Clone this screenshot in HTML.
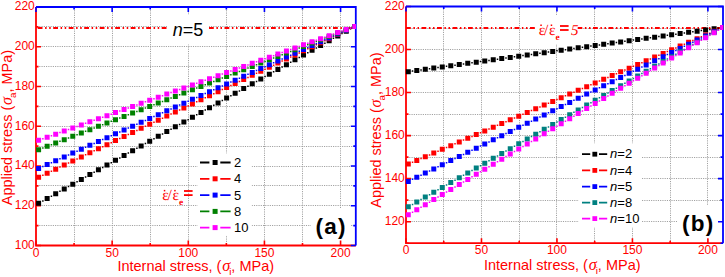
<!DOCTYPE html>
<html><head><meta charset="utf-8"><style>
html,body{margin:0;padding:0;background:#fff;width:725px;height:277px;overflow:hidden}
svg{display:block}
text{font-family:"Liberation Sans",sans-serif}
.tl{font-size:12px;fill:#ff0000}
.lg{font-size:13px;fill:#000}
.big{font-size:18px;fill:#000}
.pl{font-size:22.5px;font-weight:bold;fill:#000;letter-spacing:1.2px}
.rt{font-family:"Liberation Serif",serif;fill:#ff0000;text-rendering:geometricPrecision}
.at{font-size:14.6px;fill:#ff0000}
</style></head><body>
<svg width="725" height="277" viewBox="0 0 725 277">
<rect width="725" height="277" fill="#fff"/>
<path d="M74.5 8V244.5M112.5 8V244.5M150.5 8V244.5M188.5 8V244.5M226.5 8V244.5M264.5 8V244.5M302.5 8V244.5M340.5 8V244.5M37 225.5H354.8M37 205.5H354.8M37 185.5H354.8M37 166.5H354.8M37 146.5H354.8M37 126.5H354.8M37 106.5H354.8M37 86.5H354.8M37 66.5H354.8M37 46.5H354.8M37 26.5H354.8" stroke="#a0a0a0" stroke-width="1" stroke-dasharray="1.13 1.13" fill="none"/>
<path d="M37.7 28H167.5" stroke="#ff0000" stroke-width="2" stroke-dasharray="4.8 2.6 1.5 2.6 1.5 2.5" fill="none"/>
<path d="M209 28H354" stroke="#ff0000" stroke-width="2" stroke-dasharray="4.8 2.6 1.5 2.6 1.5 2.5" fill="none"/>
<path d="M443.5 7V242.2M481.5 7V242.2M519.5 7V242.2M556.5 7V242.2M594.5 7V242.2M632.5 7V242.2M670.5 7V242.2M707.5 7V242.2M407 221.5H722M407 200.5H722M407 178.5H722M407 157.5H722M407 135.5H722M407 114.5H722M407 92.5H722M407 71.5H722M407 49.5H722M407 28.5H722" stroke="#a0a0a0" stroke-width="1" stroke-dasharray="1.13 1.13" fill="none"/>
<path d="M406 28H535" stroke="#ff0000" stroke-width="2" stroke-dasharray="4.8 2.6 1.5 2.6 1.5 2.5" fill="none"/>
<path d="M577.5 28H721" stroke="#ff0000" stroke-width="2" stroke-dasharray="4.8 2.6 1.5 2.6 1.5 2.5" fill="none"/>
<rect x="197.5" y="153.4" width="54.2" height="82.2" fill="#fff"/>
<rect x="578.5" y="143.3" width="63.2" height="84" fill="#fff"/>
<rect x="311" y="208" width="40" height="36" fill="#fff"/>
<rect x="677" y="205" width="43" height="37" fill="#fff"/>
<rect x="167.5" y="15" width="41.5" height="29.5" fill="#fff"/>
<rect x="535" y="15.5" width="42.5" height="28.5" fill="#fff"/>
<path d="M200 162.5H209.4M220.3 162.5H230.6" stroke="#000" stroke-width="1.8" fill="none"/>
<rect x="212.6" y="160" width="5" height="5" fill="#000"/>
<text x="234" y="167.1" class="lg">2</text>
<path d="M200 178.8H209.4M220.3 178.8H230.6" stroke="#ff0000" stroke-width="1.8" fill="none"/>
<rect x="212.6" y="176.3" width="5" height="5" fill="#ff0000"/>
<text x="234" y="183.4" class="lg">4</text>
<path d="M200 195.1H209.4M220.3 195.1H230.6" stroke="#0000ff" stroke-width="1.8" fill="none"/>
<rect x="212.6" y="192.6" width="5" height="5" fill="#0000ff"/>
<text x="234" y="199.7" class="lg">5</text>
<path d="M200 211.4H209.4M220.3 211.4H230.6" stroke="#008000" stroke-width="1.8" fill="none"/>
<rect x="212.6" y="208.9" width="5" height="5" fill="#008000"/>
<text x="234" y="216" class="lg">8</text>
<path d="M200 227.6H209.4M220.3 227.6H230.6" stroke="#ff00ff" stroke-width="1.8" fill="none"/>
<rect x="212.6" y="225.1" width="5" height="5" fill="#ff00ff"/>
<text x="234" y="232.2" class="lg">10</text>
<path d="M582 154.2H590.2M599 154.2H607.2" stroke="#000" stroke-width="1.8" fill="none"/>
<rect x="592.4" y="151.8" width="4.8" height="4.8" fill="#000"/>
<text x="610.1" y="158.3" class="lg"><tspan font-style="italic">n</tspan>=2</text>
<path d="M582 170.4H590.2M599 170.4H607.2" stroke="#ff0000" stroke-width="1.8" fill="none"/>
<rect x="592.4" y="168" width="4.8" height="4.8" fill="#ff0000"/>
<text x="610.1" y="174.5" class="lg"><tspan font-style="italic">n</tspan>=4</text>
<path d="M582 186.6H590.2M599 186.6H607.2" stroke="#0000ff" stroke-width="1.8" fill="none"/>
<rect x="592.4" y="184.2" width="4.8" height="4.8" fill="#0000ff"/>
<text x="610.1" y="190.7" class="lg"><tspan font-style="italic">n</tspan>=5</text>
<path d="M582 202.6H590.2M599 202.6H607.2" stroke="#008080" stroke-width="1.8" fill="none"/>
<rect x="592.4" y="200.2" width="4.8" height="4.8" fill="#008080"/>
<text x="610.1" y="206.7" class="lg"><tspan font-style="italic">n</tspan>=8</text>
<path d="M582 218.6H590.2M599 218.6H607.2" stroke="#ff00ff" stroke-width="1.8" fill="none"/>
<rect x="592.4" y="216.2" width="4.8" height="4.8" fill="#ff00ff"/>
<text x="610.1" y="222.7" class="lg"><tspan font-style="italic">n</tspan>=10</text>
<path d="M36 245.5h5M36 225.62h2.5M36 205.75h5M36 185.88h2.5M36 166h5M36 146.12h2.5M36 126.25h5M36 106.38h2.5M36 86.5h5M36 66.62h2.5M36 46.75h5M36 26.88h2.5M36 7h5M36 245.5v-5M74.07 245.5v-2.5M112.14 245.5v-5M150.21 245.5v-2.5M188.29 245.5v-5M226.36 245.5v-2.5M264.43 245.5v-5M302.5 245.5v-2.5M340.57 245.5v-5" stroke="#ff0000" stroke-width="1.6" fill="none"/>
<path d="M36 7V245.5H355.8" stroke="#ff0000" stroke-width="1.8" fill="none"/>
<path d="M355.8 245.5h-5M355.8 225.62h-2.5M355.8 205.75h-5M355.8 185.88h-2.5M355.8 166h-5M355.8 146.12h-2.5M355.8 126.25h-5M355.8 106.38h-2.5M355.8 86.5h-5M355.8 66.62h-2.5M355.8 46.75h-5M355.8 26.88h-2.5M355.8 7h-5M36 7v5M74.07 7v2.5M112.14 7v5M150.21 7v2.5M188.29 7v5M226.36 7v2.5M264.43 7v5M302.5 7v2.5M340.57 7v5" stroke="#0000ff" stroke-width="1.6" fill="none"/>
<path d="M36 7H355.8V245.5" stroke="#0000ff" stroke-width="1.8" fill="none"/>
<text x="34.8" y="248.9" text-anchor="end" class="tl">100</text>
<text x="34.8" y="209.15" text-anchor="end" class="tl">120</text>
<text x="34.8" y="169.4" text-anchor="end" class="tl">140</text>
<text x="34.8" y="129.65" text-anchor="end" class="tl">160</text>
<text x="34.8" y="89.9" text-anchor="end" class="tl">180</text>
<text x="34.8" y="50.15" text-anchor="end" class="tl">200</text>
<text x="34.8" y="10.4" text-anchor="end" class="tl">220</text>
<text x="36" y="256.7" text-anchor="middle" class="tl">0</text>
<text x="112.14" y="256.7" text-anchor="middle" class="tl">50</text>
<text x="188.29" y="256.7" text-anchor="middle" class="tl">100</text>
<text x="264.43" y="256.7" text-anchor="middle" class="tl">150</text>
<text x="340.57" y="256.7" text-anchor="middle" class="tl">200</text>
<path d="M406 243.2h2.5M406 221.68h5M406 200.16h2.5M406 178.65h5M406 157.13h2.5M406 135.61h5M406 114.09h2.5M406 92.57h5M406 71.05h2.5M406 49.54h5M406 28.02h2.5M406 6.5h5M406 243.2v-5M443.74 243.2v-2.5M481.48 243.2v-5M519.21 243.2v-2.5M556.95 243.2v-5M594.69 243.2v-2.5M632.43 243.2v-5M670.17 243.2v-2.5M707.9 243.2v-5" stroke="#ff0000" stroke-width="1.6" fill="none"/>
<path d="M406 6.5V243.2H723" stroke="#ff0000" stroke-width="1.8" fill="none"/>
<path d="M723 243.2h-2.5M723 221.68h-5M723 200.16h-2.5M723 178.65h-5M723 157.13h-2.5M723 135.61h-5M723 114.09h-2.5M723 92.57h-5M723 71.05h-2.5M723 49.54h-5M723 28.02h-2.5M723 6.5h-5M406 6.5v5M443.74 6.5v2.5M481.48 6.5v5M519.21 6.5v2.5M556.95 6.5v5M594.69 6.5v2.5M632.43 6.5v5M670.17 6.5v2.5M707.9 6.5v5" stroke="#0000ff" stroke-width="1.6" fill="none"/>
<path d="M406 6.5H723V243.2" stroke="#0000ff" stroke-width="1.8" fill="none"/>
<text x="404.8" y="225.08" text-anchor="end" class="tl">120</text>
<text x="404.8" y="182.05" text-anchor="end" class="tl">140</text>
<text x="404.8" y="139.01" text-anchor="end" class="tl">160</text>
<text x="404.8" y="95.97" text-anchor="end" class="tl">180</text>
<text x="404.8" y="52.94" text-anchor="end" class="tl">200</text>
<text x="404.8" y="9.9" text-anchor="end" class="tl">220</text>
<text x="406" y="254.4" text-anchor="middle" class="tl">0</text>
<text x="481.48" y="254.4" text-anchor="middle" class="tl">50</text>
<text x="556.95" y="254.4" text-anchor="middle" class="tl">100</text>
<text x="632.43" y="254.4" text-anchor="middle" class="tl">150</text>
<text x="707.9" y="254.4" text-anchor="middle" class="tl">200</text>
<clipPath id="c355"><rect x="35" y="0" width="321.1" height="277"/></clipPath><g clip-path="url(#c355)">
<path d="M36.1 200.8h5v5h-5zM44.65 196.02h5v5h-5zM53.19 191.24h5v5h-5zM61.74 186.46h5v5h-5zM70.28 181.68h5v5h-5zM78.83 176.89h5v5h-5zM87.38 172.11h5v5h-5zM95.92 167.33h5v5h-5zM104.47 162.55h5v5h-5zM113.01 157.77h5v5h-5zM121.56 152.99h5v5h-5zM130.11 148.21h5v5h-5zM138.65 143.43h5v5h-5zM147.2 138.65h5v5h-5zM155.74 133.86h5v5h-5zM164.29 129.08h5v5h-5zM172.84 124.3h5v5h-5zM181.38 119.52h5v5h-5zM189.93 114.74h5v5h-5zM198.47 109.96h5v5h-5zM207.02 105.18h5v5h-5zM215.56 100.4h5v5h-5zM224.11 95.62h5v5h-5zM232.66 90.84h5v5h-5zM241.2 86.05h5v5h-5zM249.75 81.27h5v5h-5zM258.29 76.49h5v5h-5zM266.84 71.71h5v5h-5zM275.39 66.93h5v5h-5zM283.93 62.15h5v5h-5zM292.48 57.37h5v5h-5zM301.02 52.59h5v5h-5zM309.57 47.81h5v5h-5zM318.12 43.02h5v5h-5zM326.66 38.24h5v5h-5zM335.21 33.46h5v5h-5zM343.75 28.68h5v5h-5zM352.3 23.9h5v5h-5zM42.12 200.16h1.5v1.5h-1.5zM50.67 195.38h1.5v1.5h-1.5zM59.21 190.6h1.5v1.5h-1.5zM67.76 185.82h1.5v1.5h-1.5zM76.31 181.04h1.5v1.5h-1.5zM84.85 176.25h1.5v1.5h-1.5zM93.4 171.47h1.5v1.5h-1.5zM101.94 166.69h1.5v1.5h-1.5zM110.49 161.91h1.5v1.5h-1.5zM119.04 157.13h1.5v1.5h-1.5zM127.58 152.35h1.5v1.5h-1.5zM136.13 147.57h1.5v1.5h-1.5zM144.67 142.79h1.5v1.5h-1.5zM153.22 138.01h1.5v1.5h-1.5zM161.77 133.22h1.5v1.5h-1.5zM170.31 128.44h1.5v1.5h-1.5zM178.86 123.66h1.5v1.5h-1.5zM187.4 118.88h1.5v1.5h-1.5zM195.95 114.1h1.5v1.5h-1.5zM204.5 109.32h1.5v1.5h-1.5zM213.04 104.54h1.5v1.5h-1.5zM221.59 99.76h1.5v1.5h-1.5zM230.13 94.98h1.5v1.5h-1.5zM238.68 90.19h1.5v1.5h-1.5zM247.23 85.41h1.5v1.5h-1.5zM255.77 80.63h1.5v1.5h-1.5zM264.32 75.85h1.5v1.5h-1.5zM272.86 71.07h1.5v1.5h-1.5zM281.41 66.29h1.5v1.5h-1.5zM289.96 61.51h1.5v1.5h-1.5zM298.5 56.73h1.5v1.5h-1.5zM307.05 51.95h1.5v1.5h-1.5zM315.59 47.16h1.5v1.5h-1.5zM324.14 42.38h1.5v1.5h-1.5zM332.69 37.6h1.5v1.5h-1.5zM341.23 32.82h1.5v1.5h-1.5zM349.78 28.04h1.5v1.5h-1.5z" fill="#000000"/>
<path d="M36.1 174.8h5v5h-5zM44.65 170.72h5v5h-5zM53.19 166.64h5v5h-5zM61.74 162.56h5v5h-5zM70.28 158.49h5v5h-5zM78.83 154.41h5v5h-5zM87.38 150.33h5v5h-5zM95.92 146.25h5v5h-5zM104.47 142.17h5v5h-5zM113.01 138.09h5v5h-5zM121.56 134.02h5v5h-5zM130.11 129.94h5v5h-5zM138.65 125.86h5v5h-5zM147.2 121.78h5v5h-5zM155.74 117.7h5v5h-5zM164.29 113.62h5v5h-5zM172.84 109.55h5v5h-5zM181.38 105.47h5v5h-5zM189.93 101.39h5v5h-5zM198.47 97.31h5v5h-5zM207.02 93.23h5v5h-5zM215.56 89.15h5v5h-5zM224.11 85.08h5v5h-5zM232.66 81h5v5h-5zM241.2 76.92h5v5h-5zM249.75 72.84h5v5h-5zM258.29 68.76h5v5h-5zM266.84 64.68h5v5h-5zM275.39 60.61h5v5h-5zM283.93 56.53h5v5h-5zM292.48 52.45h5v5h-5zM301.02 48.37h5v5h-5zM309.57 44.29h5v5h-5zM318.12 40.21h5v5h-5zM326.66 36.14h5v5h-5zM335.21 32.06h5v5h-5zM343.75 27.98h5v5h-5zM352.3 23.9h5v5h-5zM42.12 174.51h1.5v1.5h-1.5zM50.67 170.43h1.5v1.5h-1.5zM59.21 166.35h1.5v1.5h-1.5zM67.76 162.28h1.5v1.5h-1.5zM76.31 158.2h1.5v1.5h-1.5zM84.85 154.12h1.5v1.5h-1.5zM93.4 150.04h1.5v1.5h-1.5zM101.94 145.96h1.5v1.5h-1.5zM110.49 141.88h1.5v1.5h-1.5zM119.04 137.81h1.5v1.5h-1.5zM127.58 133.73h1.5v1.5h-1.5zM136.13 129.65h1.5v1.5h-1.5zM144.67 125.57h1.5v1.5h-1.5zM153.22 121.49h1.5v1.5h-1.5zM161.77 117.41h1.5v1.5h-1.5zM170.31 113.34h1.5v1.5h-1.5zM178.86 109.26h1.5v1.5h-1.5zM187.4 105.18h1.5v1.5h-1.5zM195.95 101.1h1.5v1.5h-1.5zM204.5 97.02h1.5v1.5h-1.5zM213.04 92.94h1.5v1.5h-1.5zM221.59 88.86h1.5v1.5h-1.5zM230.13 84.79h1.5v1.5h-1.5zM238.68 80.71h1.5v1.5h-1.5zM247.23 76.63h1.5v1.5h-1.5zM255.77 72.55h1.5v1.5h-1.5zM264.32 68.47h1.5v1.5h-1.5zM272.86 64.39h1.5v1.5h-1.5zM281.41 60.32h1.5v1.5h-1.5zM289.96 56.24h1.5v1.5h-1.5zM298.5 52.16h1.5v1.5h-1.5zM307.05 48.08h1.5v1.5h-1.5zM315.59 44h1.5v1.5h-1.5zM324.14 39.92h1.5v1.5h-1.5zM332.69 35.85h1.5v1.5h-1.5zM341.23 31.77h1.5v1.5h-1.5zM349.78 27.69h1.5v1.5h-1.5z" fill="#ff0000"/>
<path d="M36.1 165.9h5v5h-5zM44.65 162.06h5v5h-5zM53.19 158.22h5v5h-5zM61.74 154.39h5v5h-5zM70.28 150.55h5v5h-5zM78.83 146.71h5v5h-5zM87.38 142.87h5v5h-5zM95.92 139.04h5v5h-5zM104.47 135.2h5v5h-5zM113.01 131.36h5v5h-5zM121.56 127.52h5v5h-5zM130.11 123.68h5v5h-5zM138.65 119.85h5v5h-5zM147.2 116.01h5v5h-5zM155.74 112.17h5v5h-5zM164.29 108.33h5v5h-5zM172.84 104.49h5v5h-5zM181.38 100.66h5v5h-5zM189.93 96.82h5v5h-5zM198.47 92.98h5v5h-5zM207.02 89.14h5v5h-5zM215.56 85.31h5v5h-5zM224.11 81.47h5v5h-5zM232.66 77.63h5v5h-5zM241.2 73.79h5v5h-5zM249.75 69.95h5v5h-5zM258.29 66.12h5v5h-5zM266.84 62.28h5v5h-5zM275.39 58.44h5v5h-5zM283.93 54.6h5v5h-5zM292.48 50.76h5v5h-5zM301.02 46.93h5v5h-5zM309.57 43.09h5v5h-5zM318.12 39.25h5v5h-5zM326.66 35.41h5v5h-5zM335.21 31.58h5v5h-5zM343.75 27.74h5v5h-5zM352.3 23.9h5v5h-5zM42.12 165.73h1.5v1.5h-1.5zM50.67 161.89h1.5v1.5h-1.5zM59.21 158.06h1.5v1.5h-1.5zM67.76 154.22h1.5v1.5h-1.5zM76.31 150.38h1.5v1.5h-1.5zM84.85 146.54h1.5v1.5h-1.5zM93.4 142.7h1.5v1.5h-1.5zM101.94 138.87h1.5v1.5h-1.5zM110.49 135.03h1.5v1.5h-1.5zM119.04 131.19h1.5v1.5h-1.5zM127.58 127.35h1.5v1.5h-1.5zM136.13 123.51h1.5v1.5h-1.5zM144.67 119.68h1.5v1.5h-1.5zM153.22 115.84h1.5v1.5h-1.5zM161.77 112h1.5v1.5h-1.5zM170.31 108.16h1.5v1.5h-1.5zM178.86 104.33h1.5v1.5h-1.5zM187.4 100.49h1.5v1.5h-1.5zM195.95 96.65h1.5v1.5h-1.5zM204.5 92.81h1.5v1.5h-1.5zM213.04 88.97h1.5v1.5h-1.5zM221.59 85.14h1.5v1.5h-1.5zM230.13 81.3h1.5v1.5h-1.5zM238.68 77.46h1.5v1.5h-1.5zM247.23 73.62h1.5v1.5h-1.5zM255.77 69.79h1.5v1.5h-1.5zM264.32 65.95h1.5v1.5h-1.5zM272.86 62.11h1.5v1.5h-1.5zM281.41 58.27h1.5v1.5h-1.5zM289.96 54.43h1.5v1.5h-1.5zM298.5 50.6h1.5v1.5h-1.5zM307.05 46.76h1.5v1.5h-1.5zM315.59 42.92h1.5v1.5h-1.5zM324.14 39.08h1.5v1.5h-1.5zM332.69 35.24h1.5v1.5h-1.5zM341.23 31.41h1.5v1.5h-1.5zM349.78 27.57h1.5v1.5h-1.5z" fill="#0000ff"/>
<path d="M36.1 147.2h5v5h-5zM44.65 143.87h5v5h-5zM53.19 140.54h5v5h-5zM61.74 137.2h5v5h-5zM70.28 133.87h5v5h-5zM78.83 130.54h5v5h-5zM87.38 127.21h5v5h-5zM95.92 123.87h5v5h-5zM104.47 120.54h5v5h-5zM113.01 117.21h5v5h-5zM121.56 113.88h5v5h-5zM130.11 110.54h5v5h-5zM138.65 107.21h5v5h-5zM147.2 103.88h5v5h-5zM155.74 100.55h5v5h-5zM164.29 97.21h5v5h-5zM172.84 93.88h5v5h-5zM181.38 90.55h5v5h-5zM189.93 87.22h5v5h-5zM198.47 83.88h5v5h-5zM207.02 80.55h5v5h-5zM215.56 77.22h5v5h-5zM224.11 73.89h5v5h-5zM232.66 70.55h5v5h-5zM241.2 67.22h5v5h-5zM249.75 63.89h5v5h-5zM258.29 60.56h5v5h-5zM266.84 57.22h5v5h-5zM275.39 53.89h5v5h-5zM283.93 50.56h5v5h-5zM292.48 47.23h5v5h-5zM301.02 43.89h5v5h-5zM309.57 40.56h5v5h-5zM318.12 37.23h5v5h-5zM326.66 33.9h5v5h-5zM335.21 30.56h5v5h-5zM343.75 27.23h5v5h-5zM352.3 23.9h5v5h-5zM42.12 147.28h1.5v1.5h-1.5zM50.67 143.95h1.5v1.5h-1.5zM59.21 140.62h1.5v1.5h-1.5zM67.76 137.29h1.5v1.5h-1.5zM76.31 133.95h1.5v1.5h-1.5zM84.85 130.62h1.5v1.5h-1.5zM93.4 127.29h1.5v1.5h-1.5zM101.94 123.96h1.5v1.5h-1.5zM110.49 120.62h1.5v1.5h-1.5zM119.04 117.29h1.5v1.5h-1.5zM127.58 113.96h1.5v1.5h-1.5zM136.13 110.63h1.5v1.5h-1.5zM144.67 107.29h1.5v1.5h-1.5zM153.22 103.96h1.5v1.5h-1.5zM161.77 100.63h1.5v1.5h-1.5zM170.31 97.3h1.5v1.5h-1.5zM178.86 93.96h1.5v1.5h-1.5zM187.4 90.63h1.5v1.5h-1.5zM195.95 87.3h1.5v1.5h-1.5zM204.5 83.97h1.5v1.5h-1.5zM213.04 80.64h1.5v1.5h-1.5zM221.59 77.3h1.5v1.5h-1.5zM230.13 73.97h1.5v1.5h-1.5zM238.68 70.64h1.5v1.5h-1.5zM247.23 67.31h1.5v1.5h-1.5zM255.77 63.97h1.5v1.5h-1.5zM264.32 60.64h1.5v1.5h-1.5zM272.86 57.31h1.5v1.5h-1.5zM281.41 53.98h1.5v1.5h-1.5zM289.96 50.64h1.5v1.5h-1.5zM298.5 47.31h1.5v1.5h-1.5zM307.05 43.98h1.5v1.5h-1.5zM315.59 40.65h1.5v1.5h-1.5zM324.14 37.31h1.5v1.5h-1.5zM332.69 33.98h1.5v1.5h-1.5zM341.23 30.65h1.5v1.5h-1.5zM349.78 27.32h1.5v1.5h-1.5z" fill="#008000"/>
<path d="M36.1 137.8h5v5h-5zM44.65 134.72h5v5h-5zM53.19 131.64h5v5h-5zM61.74 128.56h5v5h-5zM70.28 125.49h5v5h-5zM78.83 122.41h5v5h-5zM87.38 119.33h5v5h-5zM95.92 116.25h5v5h-5zM104.47 113.17h5v5h-5zM113.01 110.09h5v5h-5zM121.56 107.02h5v5h-5zM130.11 103.94h5v5h-5zM138.65 100.86h5v5h-5zM147.2 97.78h5v5h-5zM155.74 94.7h5v5h-5zM164.29 91.62h5v5h-5zM172.84 88.55h5v5h-5zM181.38 85.47h5v5h-5zM189.93 82.39h5v5h-5zM198.47 79.31h5v5h-5zM207.02 76.23h5v5h-5zM215.56 73.15h5v5h-5zM224.11 70.08h5v5h-5zM232.66 67h5v5h-5zM241.2 63.92h5v5h-5zM249.75 60.84h5v5h-5zM258.29 57.76h5v5h-5zM266.84 54.68h5v5h-5zM275.39 51.61h5v5h-5zM283.93 48.53h5v5h-5zM292.48 45.45h5v5h-5zM301.02 42.37h5v5h-5zM309.57 39.29h5v5h-5zM318.12 36.21h5v5h-5zM326.66 33.14h5v5h-5zM335.21 30.06h5v5h-5zM343.75 26.98h5v5h-5zM352.3 23.9h5v5h-5zM42.12 138.01h1.5v1.5h-1.5zM50.67 134.93h1.5v1.5h-1.5zM59.21 131.85h1.5v1.5h-1.5zM67.76 128.78h1.5v1.5h-1.5zM76.31 125.7h1.5v1.5h-1.5zM84.85 122.62h1.5v1.5h-1.5zM93.4 119.54h1.5v1.5h-1.5zM101.94 116.46h1.5v1.5h-1.5zM110.49 113.38h1.5v1.5h-1.5zM119.04 110.31h1.5v1.5h-1.5zM127.58 107.23h1.5v1.5h-1.5zM136.13 104.15h1.5v1.5h-1.5zM144.67 101.07h1.5v1.5h-1.5zM153.22 97.99h1.5v1.5h-1.5zM161.77 94.91h1.5v1.5h-1.5zM170.31 91.84h1.5v1.5h-1.5zM178.86 88.76h1.5v1.5h-1.5zM187.4 85.68h1.5v1.5h-1.5zM195.95 82.6h1.5v1.5h-1.5zM204.5 79.52h1.5v1.5h-1.5zM213.04 76.44h1.5v1.5h-1.5zM221.59 73.36h1.5v1.5h-1.5zM230.13 70.29h1.5v1.5h-1.5zM238.68 67.21h1.5v1.5h-1.5zM247.23 64.13h1.5v1.5h-1.5zM255.77 61.05h1.5v1.5h-1.5zM264.32 57.97h1.5v1.5h-1.5zM272.86 54.89h1.5v1.5h-1.5zM281.41 51.82h1.5v1.5h-1.5zM289.96 48.74h1.5v1.5h-1.5zM298.5 45.66h1.5v1.5h-1.5zM307.05 42.58h1.5v1.5h-1.5zM315.59 39.5h1.5v1.5h-1.5zM324.14 36.42h1.5v1.5h-1.5zM332.69 33.35h1.5v1.5h-1.5zM341.23 30.27h1.5v1.5h-1.5zM349.78 27.19h1.5v1.5h-1.5z" fill="#ff00ff"/>
</g>
<clipPath id="c723"><rect x="405" y="0" width="318.3" height="277"/></clipPath><g clip-path="url(#c723)">
<path d="M405.8 69.2h5v5h-5zM414.29 68.01h5v5h-5zM422.79 66.82h5v5h-5zM431.28 65.62h5v5h-5zM439.78 64.43h5v5h-5zM448.27 63.24h5v5h-5zM456.77 62.05h5v5h-5zM465.26 60.86h5v5h-5zM473.76 59.66h5v5h-5zM482.25 58.47h5v5h-5zM490.75 57.28h5v5h-5zM499.24 56.09h5v5h-5zM507.74 54.9h5v5h-5zM516.23 53.71h5v5h-5zM524.72 52.51h5v5h-5zM533.22 51.32h5v5h-5zM541.71 50.13h5v5h-5zM550.21 48.94h5v5h-5zM558.7 47.75h5v5h-5zM567.2 46.55h5v5h-5zM575.69 45.36h5v5h-5zM584.19 44.17h5v5h-5zM592.68 42.98h5v5h-5zM601.18 41.79h5v5h-5zM609.67 40.59h5v5h-5zM618.16 39.4h5v5h-5zM626.66 38.21h5v5h-5zM635.15 37.02h5v5h-5zM643.65 35.83h5v5h-5zM652.14 34.64h5v5h-5zM660.64 33.44h5v5h-5zM669.13 32.25h5v5h-5zM677.63 31.06h5v5h-5zM686.12 29.87h5v5h-5zM694.62 28.68h5v5h-5zM703.11 27.48h5v5h-5zM711.61 26.29h5v5h-5zM720.1 25.1h5v5h-5zM411.8 70.35h1.5v1.5h-1.5zM420.29 69.16h1.5v1.5h-1.5zM428.79 67.97h1.5v1.5h-1.5zM437.28 66.78h1.5v1.5h-1.5zM445.78 65.59h1.5v1.5h-1.5zM454.27 64.39h1.5v1.5h-1.5zM462.76 63.2h1.5v1.5h-1.5zM471.26 62.01h1.5v1.5h-1.5zM479.75 60.82h1.5v1.5h-1.5zM488.25 59.63h1.5v1.5h-1.5zM496.74 58.44h1.5v1.5h-1.5zM505.24 57.24h1.5v1.5h-1.5zM513.73 56.05h1.5v1.5h-1.5zM522.23 54.86h1.5v1.5h-1.5zM530.72 53.67h1.5v1.5h-1.5zM539.22 52.48h1.5v1.5h-1.5zM547.71 51.28h1.5v1.5h-1.5zM556.21 50.09h1.5v1.5h-1.5zM564.7 48.9h1.5v1.5h-1.5zM573.19 47.71h1.5v1.5h-1.5zM581.69 46.52h1.5v1.5h-1.5zM590.18 45.32h1.5v1.5h-1.5zM598.68 44.13h1.5v1.5h-1.5zM607.17 42.94h1.5v1.5h-1.5zM615.67 41.75h1.5v1.5h-1.5zM624.16 40.56h1.5v1.5h-1.5zM632.66 39.36h1.5v1.5h-1.5zM641.15 38.17h1.5v1.5h-1.5zM649.65 36.98h1.5v1.5h-1.5zM658.14 35.79h1.5v1.5h-1.5zM666.64 34.6h1.5v1.5h-1.5zM675.13 33.41h1.5v1.5h-1.5zM683.62 32.21h1.5v1.5h-1.5zM692.12 31.02h1.5v1.5h-1.5zM700.61 29.83h1.5v1.5h-1.5zM709.11 28.64h1.5v1.5h-1.5zM717.6 27.45h1.5v1.5h-1.5z" fill="#000000"/>
<path d="M405.8 161.6h5v5h-5zM414.29 157.91h5v5h-5zM422.79 154.22h5v5h-5zM431.28 150.53h5v5h-5zM439.78 146.84h5v5h-5zM448.27 143.15h5v5h-5zM456.77 139.46h5v5h-5zM465.26 135.78h5v5h-5zM473.76 132.09h5v5h-5zM482.25 128.4h5v5h-5zM490.75 124.71h5v5h-5zM499.24 121.02h5v5h-5zM507.74 117.33h5v5h-5zM516.23 113.64h5v5h-5zM524.72 109.95h5v5h-5zM533.22 106.26h5v5h-5zM541.71 102.57h5v5h-5zM550.21 98.88h5v5h-5zM558.7 95.19h5v5h-5zM567.2 91.51h5v5h-5zM575.69 87.82h5v5h-5zM584.19 84.13h5v5h-5zM592.68 80.44h5v5h-5zM601.18 76.75h5v5h-5zM609.67 73.06h5v5h-5zM618.16 69.37h5v5h-5zM626.66 65.68h5v5h-5zM635.15 61.99h5v5h-5zM643.65 58.3h5v5h-5zM652.14 54.61h5v5h-5zM660.64 50.92h5v5h-5zM669.13 47.24h5v5h-5zM677.63 43.55h5v5h-5zM686.12 39.86h5v5h-5zM694.62 36.17h5v5h-5zM703.11 32.48h5v5h-5zM711.61 28.79h5v5h-5zM720.1 25.1h5v5h-5zM411.8 161.51h1.5v1.5h-1.5zM420.29 157.82h1.5v1.5h-1.5zM428.79 154.13h1.5v1.5h-1.5zM437.28 150.44h1.5v1.5h-1.5zM445.78 146.75h1.5v1.5h-1.5zM454.27 143.06h1.5v1.5h-1.5zM462.76 139.37h1.5v1.5h-1.5zM471.26 135.68h1.5v1.5h-1.5zM479.75 131.99h1.5v1.5h-1.5zM488.25 128.3h1.5v1.5h-1.5zM496.74 124.61h1.5v1.5h-1.5zM505.24 120.92h1.5v1.5h-1.5zM513.73 117.24h1.5v1.5h-1.5zM522.23 113.55h1.5v1.5h-1.5zM530.72 109.86h1.5v1.5h-1.5zM539.22 106.17h1.5v1.5h-1.5zM547.71 102.48h1.5v1.5h-1.5zM556.21 98.79h1.5v1.5h-1.5zM564.7 95.1h1.5v1.5h-1.5zM573.19 91.41h1.5v1.5h-1.5zM581.69 87.72h1.5v1.5h-1.5zM590.18 84.03h1.5v1.5h-1.5zM598.68 80.34h1.5v1.5h-1.5zM607.17 76.65h1.5v1.5h-1.5zM615.67 72.96h1.5v1.5h-1.5zM624.16 69.28h1.5v1.5h-1.5zM632.66 65.59h1.5v1.5h-1.5zM641.15 61.9h1.5v1.5h-1.5zM649.65 58.21h1.5v1.5h-1.5zM658.14 54.52h1.5v1.5h-1.5zM666.64 50.83h1.5v1.5h-1.5zM675.13 47.14h1.5v1.5h-1.5zM683.62 43.45h1.5v1.5h-1.5zM692.12 39.76h1.5v1.5h-1.5zM700.61 36.07h1.5v1.5h-1.5zM709.11 32.38h1.5v1.5h-1.5zM717.6 28.69h1.5v1.5h-1.5z" fill="#ff0000"/>
<path d="M405.8 178.9h5v5h-5zM414.29 174.74h5v5h-5zM422.79 170.59h5v5h-5zM431.28 166.43h5v5h-5zM439.78 162.27h5v5h-5zM448.27 158.12h5v5h-5zM456.77 153.96h5v5h-5zM465.26 149.8h5v5h-5zM473.76 145.65h5v5h-5zM482.25 141.49h5v5h-5zM490.75 137.33h5v5h-5zM499.24 133.18h5v5h-5zM507.74 129.02h5v5h-5zM516.23 124.86h5v5h-5zM524.72 120.71h5v5h-5zM533.22 116.55h5v5h-5zM541.71 112.39h5v5h-5zM550.21 108.24h5v5h-5zM558.7 104.08h5v5h-5zM567.2 99.92h5v5h-5zM575.69 95.76h5v5h-5zM584.19 91.61h5v5h-5zM592.68 87.45h5v5h-5zM601.18 83.29h5v5h-5zM609.67 79.14h5v5h-5zM618.16 74.98h5v5h-5zM626.66 70.82h5v5h-5zM635.15 66.67h5v5h-5zM643.65 62.51h5v5h-5zM652.14 58.35h5v5h-5zM660.64 54.2h5v5h-5zM669.13 50.04h5v5h-5zM677.63 45.88h5v5h-5zM686.12 41.73h5v5h-5zM694.62 37.57h5v5h-5zM703.11 33.41h5v5h-5zM711.61 29.26h5v5h-5zM720.1 25.1h5v5h-5zM411.8 178.57h1.5v1.5h-1.5zM420.29 174.41h1.5v1.5h-1.5zM428.79 170.26h1.5v1.5h-1.5zM437.28 166.1h1.5v1.5h-1.5zM445.78 161.94h1.5v1.5h-1.5zM454.27 157.79h1.5v1.5h-1.5zM462.76 153.63h1.5v1.5h-1.5zM471.26 149.47h1.5v1.5h-1.5zM479.75 145.32h1.5v1.5h-1.5zM488.25 141.16h1.5v1.5h-1.5zM496.74 137h1.5v1.5h-1.5zM505.24 132.85h1.5v1.5h-1.5zM513.73 128.69h1.5v1.5h-1.5zM522.23 124.53h1.5v1.5h-1.5zM530.72 120.38h1.5v1.5h-1.5zM539.22 116.22h1.5v1.5h-1.5zM547.71 112.06h1.5v1.5h-1.5zM556.21 107.91h1.5v1.5h-1.5zM564.7 103.75h1.5v1.5h-1.5zM573.19 99.59h1.5v1.5h-1.5zM581.69 95.44h1.5v1.5h-1.5zM590.18 91.28h1.5v1.5h-1.5zM598.68 87.12h1.5v1.5h-1.5zM607.17 82.97h1.5v1.5h-1.5zM615.67 78.81h1.5v1.5h-1.5zM624.16 74.65h1.5v1.5h-1.5zM632.66 70.5h1.5v1.5h-1.5zM641.15 66.34h1.5v1.5h-1.5zM649.65 62.18h1.5v1.5h-1.5zM658.14 58.03h1.5v1.5h-1.5zM666.64 53.87h1.5v1.5h-1.5zM675.13 49.71h1.5v1.5h-1.5zM683.62 45.56h1.5v1.5h-1.5zM692.12 41.4h1.5v1.5h-1.5zM700.61 37.24h1.5v1.5h-1.5zM709.11 33.09h1.5v1.5h-1.5zM717.6 28.93h1.5v1.5h-1.5z" fill="#0000ff"/>
<path d="M405.8 204.3h5v5h-5zM414.29 199.46h5v5h-5zM422.79 194.61h5v5h-5zM431.28 189.77h5v5h-5zM439.78 184.93h5v5h-5zM448.27 180.08h5v5h-5zM456.77 175.24h5v5h-5zM465.26 170.4h5v5h-5zM473.76 165.55h5v5h-5zM482.25 160.71h5v5h-5zM490.75 155.87h5v5h-5zM499.24 151.02h5v5h-5zM507.74 146.18h5v5h-5zM516.23 141.34h5v5h-5zM524.72 136.49h5v5h-5zM533.22 131.65h5v5h-5zM541.71 126.81h5v5h-5zM550.21 121.96h5v5h-5zM558.7 117.12h5v5h-5zM567.2 112.28h5v5h-5zM575.69 107.44h5v5h-5zM584.19 102.59h5v5h-5zM592.68 97.75h5v5h-5zM601.18 92.91h5v5h-5zM609.67 88.06h5v5h-5zM618.16 83.22h5v5h-5zM626.66 78.38h5v5h-5zM635.15 73.53h5v5h-5zM643.65 68.69h5v5h-5zM652.14 63.85h5v5h-5zM660.64 59h5v5h-5zM669.13 54.16h5v5h-5zM677.63 49.32h5v5h-5zM686.12 44.47h5v5h-5zM694.62 39.63h5v5h-5zM703.11 34.79h5v5h-5zM711.61 29.94h5v5h-5zM720.1 25.1h5v5h-5zM411.8 203.63h1.5v1.5h-1.5zM420.29 198.79h1.5v1.5h-1.5zM428.79 193.94h1.5v1.5h-1.5zM437.28 189.1h1.5v1.5h-1.5zM445.78 184.26h1.5v1.5h-1.5zM454.27 179.41h1.5v1.5h-1.5zM462.76 174.57h1.5v1.5h-1.5zM471.26 169.73h1.5v1.5h-1.5zM479.75 164.88h1.5v1.5h-1.5zM488.25 160.04h1.5v1.5h-1.5zM496.74 155.2h1.5v1.5h-1.5zM505.24 150.35h1.5v1.5h-1.5zM513.73 145.51h1.5v1.5h-1.5zM522.23 140.67h1.5v1.5h-1.5zM530.72 135.82h1.5v1.5h-1.5zM539.22 130.98h1.5v1.5h-1.5zM547.71 126.14h1.5v1.5h-1.5zM556.21 121.29h1.5v1.5h-1.5zM564.7 116.45h1.5v1.5h-1.5zM573.19 111.61h1.5v1.5h-1.5zM581.69 106.76h1.5v1.5h-1.5zM590.18 101.92h1.5v1.5h-1.5zM598.68 97.08h1.5v1.5h-1.5zM607.17 92.23h1.5v1.5h-1.5zM615.67 87.39h1.5v1.5h-1.5zM624.16 82.55h1.5v1.5h-1.5zM632.66 77.7h1.5v1.5h-1.5zM641.15 72.86h1.5v1.5h-1.5zM649.65 68.02h1.5v1.5h-1.5zM658.14 63.17h1.5v1.5h-1.5zM666.64 58.33h1.5v1.5h-1.5zM675.13 53.49h1.5v1.5h-1.5zM683.62 48.64h1.5v1.5h-1.5zM692.12 43.8h1.5v1.5h-1.5zM700.61 38.96h1.5v1.5h-1.5zM709.11 34.11h1.5v1.5h-1.5zM717.6 29.27h1.5v1.5h-1.5z" fill="#008080"/>
<path d="M405.8 212.3h5v5h-5zM414.29 207.24h5v5h-5zM422.79 202.18h5v5h-5zM431.28 197.12h5v5h-5zM439.78 192.06h5v5h-5zM448.27 187h5v5h-5zM456.77 181.94h5v5h-5zM465.26 176.88h5v5h-5zM473.76 171.82h5v5h-5zM482.25 166.76h5v5h-5zM490.75 161.71h5v5h-5zM499.24 156.65h5v5h-5zM507.74 151.59h5v5h-5zM516.23 146.53h5v5h-5zM524.72 141.47h5v5h-5zM533.22 136.41h5v5h-5zM541.71 131.35h5v5h-5zM550.21 126.29h5v5h-5zM558.7 121.23h5v5h-5zM567.2 116.17h5v5h-5zM575.69 111.11h5v5h-5zM584.19 106.05h5v5h-5zM592.68 100.99h5v5h-5zM601.18 95.93h5v5h-5zM609.67 90.87h5v5h-5zM618.16 85.81h5v5h-5zM626.66 80.75h5v5h-5zM635.15 75.69h5v5h-5zM643.65 70.64h5v5h-5zM652.14 65.58h5v5h-5zM660.64 60.52h5v5h-5zM669.13 55.46h5v5h-5zM677.63 50.4h5v5h-5zM686.12 45.34h5v5h-5zM694.62 40.28h5v5h-5zM703.11 35.22h5v5h-5zM711.61 30.16h5v5h-5zM720.1 25.1h5v5h-5zM411.8 211.52h1.5v1.5h-1.5zM420.29 206.46h1.5v1.5h-1.5zM428.79 201.4h1.5v1.5h-1.5zM437.28 196.34h1.5v1.5h-1.5zM445.78 191.28h1.5v1.5h-1.5zM454.27 186.22h1.5v1.5h-1.5zM462.76 181.16h1.5v1.5h-1.5zM471.26 176.1h1.5v1.5h-1.5zM479.75 171.04h1.5v1.5h-1.5zM488.25 165.99h1.5v1.5h-1.5zM496.74 160.93h1.5v1.5h-1.5zM505.24 155.87h1.5v1.5h-1.5zM513.73 150.81h1.5v1.5h-1.5zM522.23 145.75h1.5v1.5h-1.5zM530.72 140.69h1.5v1.5h-1.5zM539.22 135.63h1.5v1.5h-1.5zM547.71 130.57h1.5v1.5h-1.5zM556.21 125.51h1.5v1.5h-1.5zM564.7 120.45h1.5v1.5h-1.5zM573.19 115.39h1.5v1.5h-1.5zM581.69 110.33h1.5v1.5h-1.5zM590.18 105.27h1.5v1.5h-1.5zM598.68 100.21h1.5v1.5h-1.5zM607.17 95.15h1.5v1.5h-1.5zM615.67 90.09h1.5v1.5h-1.5zM624.16 85.03h1.5v1.5h-1.5zM632.66 79.97h1.5v1.5h-1.5zM641.15 74.91h1.5v1.5h-1.5zM649.65 69.86h1.5v1.5h-1.5zM658.14 64.8h1.5v1.5h-1.5zM666.64 59.74h1.5v1.5h-1.5zM675.13 54.68h1.5v1.5h-1.5zM683.62 49.62h1.5v1.5h-1.5zM692.12 44.56h1.5v1.5h-1.5zM700.61 39.5h1.5v1.5h-1.5zM709.11 34.44h1.5v1.5h-1.5zM717.6 29.38h1.5v1.5h-1.5z" fill="#ff00ff"/>
</g>
<text x="172.7" y="35.6" class="big"><tspan font-style="italic">n</tspan>=5</text>
<text x="315.5" y="234.3" class="pl">(a)</text>
<text x="682" y="231.2" class="pl">(b)</text>
<text x="162.2" y="200.1" class="rt" font-size="15.5">ε</text>
<text x="167.4" y="200.1" class="rt" font-size="15.5">/</text>
<text x="172.4" y="200.1" class="rt" font-size="15.5">ε</text>
<text x="178.9" y="205.3" class="rt" font-size="9.3" font-weight="bold">e</text>
<rect x="163.8" y="189.9" width="1.5" height="1.5" fill="#ff0000"/>
<rect x="174.2" y="189.9" width="1.5" height="1.5" fill="#ff0000"/>
<rect x="184" y="190.1" width="8.6" height="1.8" fill="#ff0000"/>
<rect x="184" y="194.2" width="8.6" height="1.8" fill="#ff0000"/>
<text x="538.7" y="34.7" class="rt" font-size="15.5">ε</text>
<text x="543.9" y="34.7" class="rt" font-size="15.5">/</text>
<text x="548.9" y="34.7" class="rt" font-size="15.5">ε</text>
<text x="555.4" y="39.9" class="rt" font-size="9.3" font-weight="bold">e</text>
<rect x="540.3" y="24.5" width="1.5" height="1.5" fill="#ff0000"/>
<rect x="550.7" y="24.5" width="1.5" height="1.5" fill="#ff0000"/>
<rect x="560" y="25.1" width="8.6" height="1.8" fill="#ff0000"/>
<rect x="560" y="29.1" width="8.6" height="1.8" fill="#ff0000"/>
<text x="571" y="35.2" class="rt" font-size="15" font-style="italic">5</text>
<g transform="translate(117.4 270.5)" fill="#ff0000"><text x="0" y="0" font-size="14.5" id="t_x_117">Internal stress, (<tspan font-family="Liberation Serif, serif" font-style="italic" font-size="16.24" dx="0.8">σ</tspan><tspan font-size="9.86" dy="4" dx="-1">i</tspan><tspan dy="-4" dx="0">, MPa)</tspan></text></g>
<g transform="translate(483.9 270.4)" fill="#ff0000"><text x="0" y="0" font-size="14.5" id="t_x_483">Internal stress, (<tspan font-family="Liberation Serif, serif" font-style="italic" font-size="16.24" dx="0.8">σ</tspan><tspan font-size="9.86" dy="4" dx="-1">i</tspan><tspan dy="-4" dx="0">, MPa)</tspan></text></g>
<g transform="translate(12.2 205.2) rotate(-90)" fill="#ff0000"><text x="0" y="0" font-size="14.45" id="t_y_12">Applied stress (<tspan font-family="Liberation Serif, serif" font-style="italic" font-size="16.18" dx="0.8">σ</tspan><tspan font-size="9.83" dy="4" dx="-1">a</tspan><tspan dy="-4" dx="0">, MPa)</tspan></text></g>
<g transform="translate(380.9 207.7) rotate(-90)" fill="#ff0000"><text x="0" y="0" font-size="14.45" id="t_y_380">Applied stress (<tspan font-family="Liberation Serif, serif" font-style="italic" font-size="16.18" dx="0.8">σ</tspan><tspan font-size="9.83" dy="4" dx="-1">a</tspan><tspan dy="-4" dx="0">, MPa)</tspan></text></g>
</svg>
</body></html>
